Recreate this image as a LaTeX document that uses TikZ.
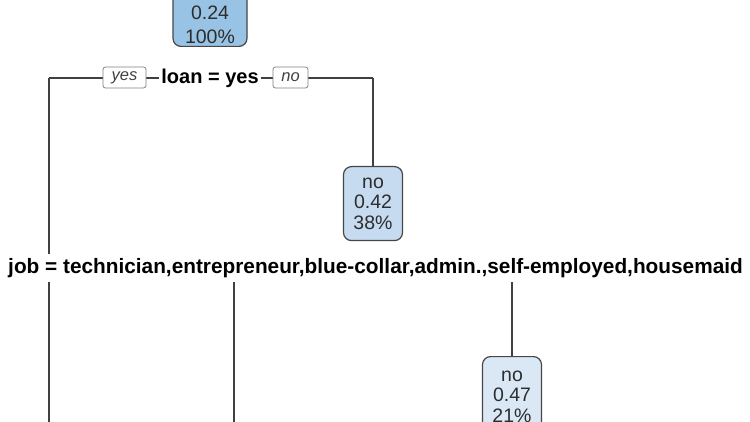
\documentclass[tikz,border=0pt]{standalone}
\usepackage{fontspec}
\setmainfont{Liberation Sans}
\usetikzlibrary{backgrounds}
\definecolor{rootfill}{RGB}{152,195,228}
\definecolor{midfill}{RGB}{198,219,239}
\definecolor{lightfill}{RGB}{218,232,246}
\definecolor{edgecol}{RGB}{64,64,64}
\definecolor{boxedge}{RGB}{70,70,70}
\definecolor{textcol}{RGB}{45,45,45}
\begin{document}
\begin{tikzpicture}[x=1pt,y=-1pt,
  treebox/.style={draw=boxedge, rounded corners=8pt, line width=1.2pt, minimum width=59pt,
    minimum height=74pt, align=center, inner sep=0pt, text=textcol,
    font=\fontsize{19.5}{20.5}\selectfont},
  boxtext/.style={inner sep=0pt, text=textcol, font=\fontsize{19.5}{21}\selectfont},
  splitlabel/.style={fill=white, inner xsep=2pt, inner ysep=4pt, text=black,
    font=\fontsize{20}{24}\selectfont\bfseries},
  yesno/.style={draw=gray, fill=white, rounded corners=2.5pt, line width=0.8pt,
    minimum height=21pt, inner sep=0pt, text=darkgray,
    font=\fontsize{16.5}{18}\selectfont\itshape},
  treeedge/.style={draw=edgecol, line width=1.5pt}]
\useasboundingbox (0,0) rectangle (750,422);

% root node (clipped at the top)
\node[treebox, fill=rootfill, minimum width=74pt, minimum height=90pt, anchor=south] (root) at (210,47) {};
\node[boxtext] (rootv) at (210,13) {0.24};
\node[boxtext] (rootp) at (210,37) {100\%};

% first split
\coordinate (cL) at (49,78);
\coordinate (cR) at (373,78);
\coordinate (bL) at (49,422);
\node[splitlabel] (loan) at (210,78) {loan = yes};
\node[yesno, minimum width=43pt] (yes) at (124.5,77.5) {yes};
\node[yesno, minimum width=35pt] (no) at (290.5,77.5) {no};

% right child
\node[treebox, fill=midfill, anchor=north] (n42) at (373,166) {no\\0.42\\38\%};

% second split
\node[splitlabel, font=\fontsize{20.8}{24}\selectfont\bfseries] (job) at (375.5,268) {job = technician,entrepreneur,blue-collar,admin.,self-employed,housemaid};
\coordinate (jL) at (234,268);
\coordinate (jR) at (512,268);
\coordinate (bM) at (234,422);

\node[treebox, fill=lightfill, minimum height=80pt, anchor=north] (n47) at (512,356) {no\\0.47\\21\%};

\begin{scope}[on background layer]
  \draw[treeedge] (cL) -- (cR);
  \draw[treeedge] (cL) -- (bL);
  \draw[treeedge] (cR) -- (n42.north);
  \draw[treeedge] (jL) -- (jR);
  \draw[treeedge] (jL) -- (bM);
  \draw[treeedge] (jR) -- (n47.north);
\end{scope}
\end{tikzpicture}
\end{document}
